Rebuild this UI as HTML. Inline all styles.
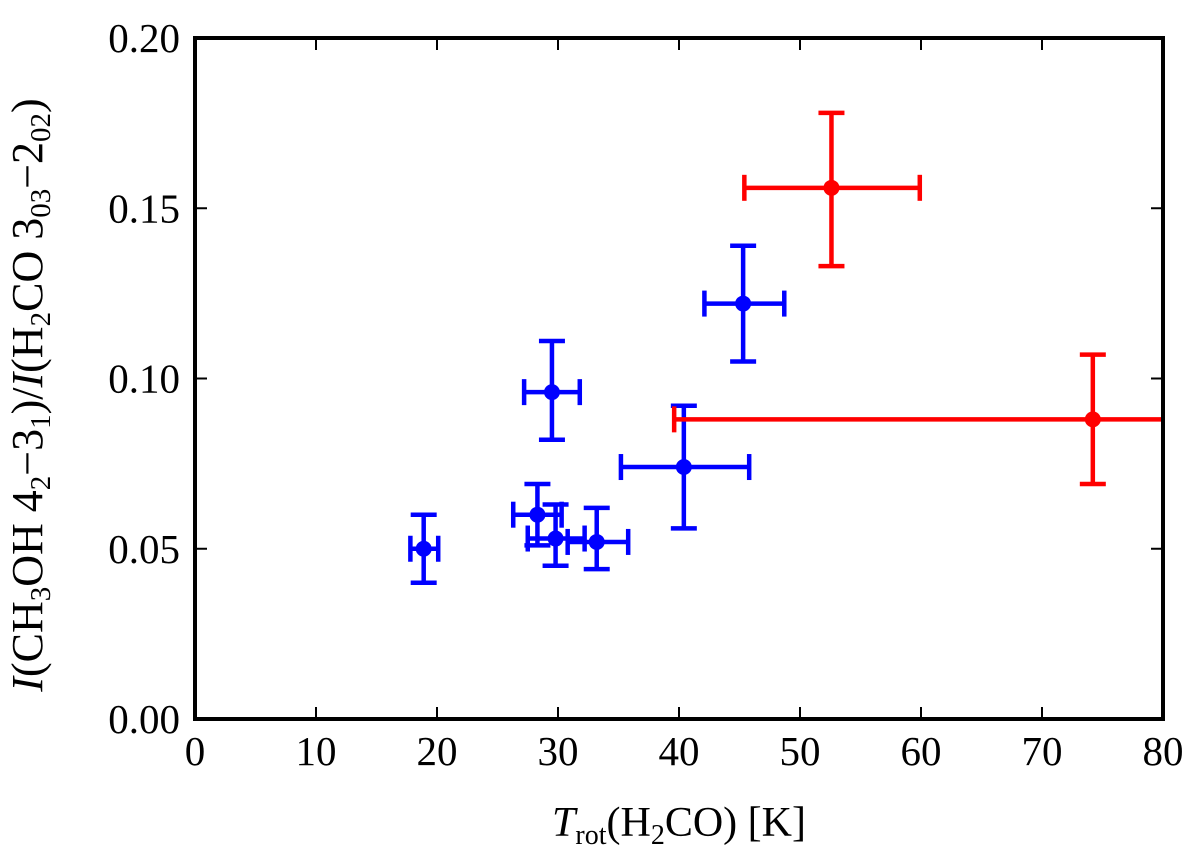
<!DOCTYPE html>
<html><head><meta charset="utf-8"><style>
body{margin:0;background:#fff;}
svg text{font-family:"Liberation Serif",serif;fill:#000;}
</style></head><body>
<svg id="chart" width="1200" height="858" xmlns="http://www.w3.org/2000/svg">
<defs><clipPath id="clip"><rect x="195" y="38" width="968" height="681"/></clipPath></defs>
<g id="marks" clip-path="url(#clip)"></g>
<g id="axes"></g>
<text x="679" y="836" font-size="42" text-anchor="middle"><tspan font-style="italic">T</tspan><tspan font-size="28" dy="8">rot</tspan><tspan dy="-8">(H</tspan><tspan font-size="28" dy="8">2</tspan><tspan dy="-8">CO) [K]</tspan></text>
<text transform="translate(42,395) rotate(-90)" font-size="44" text-anchor="middle"><tspan font-style="italic">I</tspan><tspan>(CH</tspan><tspan font-size="29" dy="8">3</tspan><tspan dy="-8">OH 4</tspan><tspan font-size="29" dy="8">2</tspan><tspan dy="-8">−3</tspan><tspan font-size="29" dy="8">1</tspan><tspan dy="-8">)/</tspan><tspan font-style="italic">I</tspan><tspan>(H</tspan><tspan font-size="29" dy="8">2</tspan><tspan dy="-8">CO 3</tspan><tspan font-size="29" dy="8">03</tspan><tspan dy="-8">−2</tspan><tspan font-size="29" dy="8">02</tspan><tspan dy="-8">)</tspan></text>
</svg>
<script>
const blueX=[18.9,28.3,29.8,33.2,29.5,40.4,45.3];
const blueY=[0.050,0.060,0.053,0.052,0.096,0.074,0.122];
const blueXlo=[17.8,26.3,27.5,30.8,27.2,35.2,42.1];
const blueXhi=[20.1,30.3,32.2,35.8,31.8,45.8,48.7];
const blueYlo=[0.040,0.051,0.045,0.044,0.082,0.056,0.105];
const blueYhi=[0.060,0.069,0.063,0.062,0.111,0.092,0.139];
const redX=[52.6,74.2];
const redY=[0.156,0.088];
const redXlo=[45.4,39.6];
const redXhi=[59.9,95];
const redYlo=[0.133,0.069];
const redYhi=[0.178,0.107];
const xTicks=[0,10,20,30,40,50,60,70,80];
const yTicks=[0,0.05,0.10,0.15,0.20];
const yTickLabels=["0.00","0.05","0.10","0.15","0.20"];

const L=195,R=1163,T=38,B=719;
const sx=v=>L+(v-0)/(80-0)*(R-L);
const sy=v=>B-(v-0)/(0.2-0)*(B-T);
const NS="http://www.w3.org/2000/svg";
function mk(tag,attrs,parent){const e=document.createElementNS(NS,tag);for(const k in attrs)e.setAttribute(k,attrs[k]);parent.appendChild(e);return e;}
const marks=document.getElementById('marks'),axes=document.getElementById('axes');

function series(xs,ys,xlo,xhi,ylo,yhi,color,name){
  for(let i=0;i<xs.length;i++){
    const g=mk('g',{},marks);
    
    
    const st={stroke:color,'stroke-width':4.5,fill:'none'};
    const cx=sx(xs[i]),cy=sy(ys[i]),c=13;
    mk('line',Object.assign({x1:sx(xlo[i]),x2:sx(xhi[i]),y1:cy,y2:cy},st),g);
    mk('line',Object.assign({x1:cx,x2:cx,y1:sy(ylo[i]),y2:sy(yhi[i])},st),g);
    mk('line',Object.assign({x1:sx(xlo[i]),x2:sx(xlo[i]),y1:cy-c,y2:cy+c},st),g);
    mk('line',Object.assign({x1:sx(xhi[i]),x2:sx(xhi[i]),y1:cy-c,y2:cy+c},st),g);
    mk('line',Object.assign({x1:cx-c,x2:cx+c,y1:sy(ylo[i]),y2:sy(ylo[i])},st),g);
    mk('line',Object.assign({x1:cx-c,x2:cx+c,y1:sy(yhi[i]),y2:sy(yhi[i])},st),g);
    mk('circle',{cx:cx,cy:cy,r:8,fill:color},g);
  }
}
series(blueX,blueY,blueXlo,blueXhi,blueYlo,blueYhi,'#0000ff','blue');
series(redX,redY,redXlo,redXhi,redYlo,redYhi,'#ff0000','red');

xTicks.forEach(v=>{
  const x=sx(v);
  const t1=mk('line',{x1:x,x2:x,y1:B,y2:B-12,stroke:'#000','stroke-width':2},axes);
  
  
  mk('line',{x1:x,x2:x,y1:T,y2:T+12,stroke:'#000','stroke-width':2},axes);
  const t=mk('text',{x:x,y:B+46,'font-size':41,'text-anchor':'middle'},axes);
  t.textContent=v;
  
  
});
yTicks.forEach((v,i)=>{
  const y=sy(v);
  const t1=mk('line',{x1:L,x2:L+12,y1:y,y2:y,stroke:'#000','stroke-width':2},axes);
  
  
  mk('line',{x1:R,x2:R-12,y1:y,y2:y,stroke:'#000','stroke-width':2},axes);
  const t=mk('text',{x:L-15,y:y+14,'font-size':41,'text-anchor':'end'},axes);
  t.textContent=yTickLabels[i];
  
  
});
const f=mk('rect',{x:L,y:T,width:R-L,height:B-T,fill:'none',stroke:'#000','stroke-width':4},axes);


</script>
</body></html>
